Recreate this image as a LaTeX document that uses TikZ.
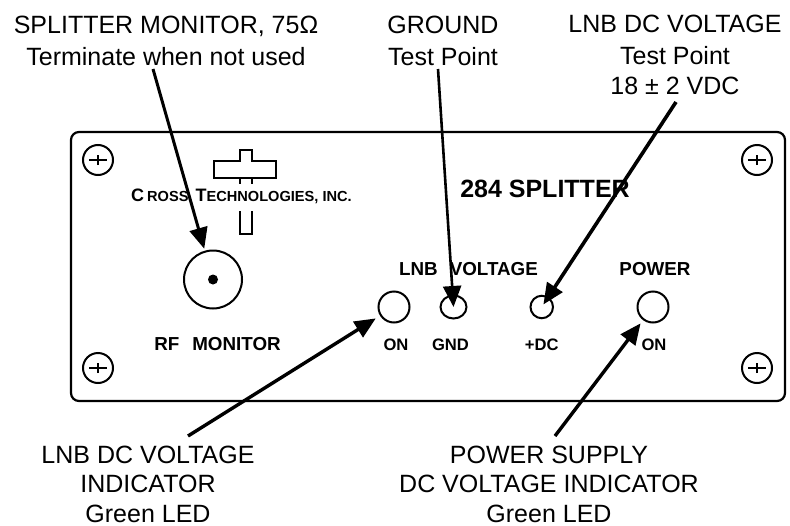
\documentclass[tikz,border=0pt]{standalone}
\usepackage{fontspec}
\setmainfont{Liberation Sans}
\usetikzlibrary{arrows.meta,positioning,shapes.geometric}
\tikzset{
  felirat/.style={align=center,inner sep=0pt,anchor=base,font=\fontsize{25}{29.5}\selectfont},
  cimke/.style={inner sep=0pt,font=\fontsize{18.8}{22}\selectfont\bfseries},
  kiscimke/.style={inner sep=0pt,font=\fontsize{16.6}{20}\selectfont\bfseries},
  led/.style={circle,draw,line width=2pt,inner sep=0pt,minimum size=#1},
  screw/.style={circle,draw,line width=2pt,inner sep=0pt,minimum size=30pt},
  lap/.style={line width=2.2pt,rounded corners=8pt},
  logo/.style={line width=2pt},
  nyil/.style={-{Triangle[length=21pt,width=18pt]},line width=3pt},
}

\begin{document}
\begin{tikzpicture}[x=1pt,y=-1pt]
  \useasboundingbox (0,0) rectangle (790,525);
  \draw[lap] (71,132) rectangle (785,401);
  % screws
  \foreach \nev/\hol in {sa/{98,160},sb/{757,160},sc/{98,368},sd/{757,368}} {
    \node[screw] (\nev) at (\hol) {};
    \draw[line width=1.8pt] ([xshift=-9pt]\nev.center) -- ([xshift=9pt]\nev.center);
    \draw[line width=1.6pt] ([yshift=-5pt]\nev.center) -- ([yshift=5pt]\nev.center);
  }
  % logo
  \draw[logo] (240,161) -- (240,150) -- (252,150) -- (252,161) -- (276,161) -- (276,178) -- (214,178) -- (214,161) -- cycle;
  \draw[logo] (240,178) -- (240,184) (252,178) -- (252,184);
  \draw[logo] (240,211) -- (240,234) -- (252,234) -- (252,211);
  \node[inner sep=0pt,anchor=base west,font=\fontsize{14.6}{16}\selectfont\bfseries] (ceg) at (131,201)
    {{\fontsize{18}{16}\selectfont C}\hspace{3pt}ROSS\hspace{7pt}{\fontsize{18}{16}\selectfont T}ECHNOLOGIES, INC.};
  \node[inner sep=0pt,anchor=base,font=\fontsize{25}{28}\selectfont\bfseries] (cim) at (545,197) {284 SPLITTER};
  % monitor
  \node[led=58pt] (bnc) at (213,279.5) {};
  \node[circle,fill,inner sep=0pt,minimum size=10pt] (pont) at (bnc.center) {};
  \node[cimke,anchor=base] (rf) at (217.5,350) {RF\hspace{13pt}MONITOR};
  % LED row
  \node[led=31pt] (ledon) at (394,307) {};
  \node[ellipse,draw,line width=2pt,inner sep=0pt,minimum width=26pt,minimum height=23pt,right=29pt of ledon] (gnd) {};
  \node[led=22.5pt,right=62pt of gnd] (dc) {};
  \node[led=31pt,right=82.5pt of dc] (ledpwr) {};
  \node[kiscimke,below=15.5pt of ledon,xshift=2pt] (on1) {ON};
  \node[kiscimke,below=19pt of gnd,xshift=-3pt] (gndt) {GND};
  \node[kiscimke,below=19.5pt of dc] (dct) {+DC};
  \node[kiscimke,below=15.5pt of ledpwr,xshift=1pt] (on2) {ON};
  \node[cimke,anchor=base] (lnb) at (468.5,275) {LNB\hspace{12pt}VOLTAGE};
  \node[cimke,anchor=base] (pwr) at (655,275) {POWER};
  % callouts
  \node[felirat] (f1) at (166,65) {SPLITTER MONITOR, 75Ω\\[2.5pt] Terminate when not used};
  \node[felirat] (f2) at (443,65) {GROUND\\[2.5pt] Test Point};
  \node[felirat] (f3) at (675,94) {LNB DC VOLTAGE\\[2.5pt] Test Point\\ 18 ± 2 VDC};
  \node[felirat] (f4) at (148,522) {LNB DC VOLTAGE\\ INDICATOR\\ Green LED};
  \node[felirat] (f5) at (549,522) {POWER SUPPLY\\ DC VOLTAGE INDICATOR\\ Green LED};
  \coordinate (t1) at (153,69);
  \coordinate (t2) at (438,69);
  \coordinate (t3) at (676,102);
  \coordinate (t4) at (188,436);
  \coordinate (t5) at (555,436);
  \draw[nyil,shorten >=2pt] (t1) -- (bnc);
  \draw[nyil,line width=2.6pt] (t2) -- (gnd.center);
  \draw[nyil,line width=3.6pt,shorten >=3pt] (t3) -- (dc.center);
  \draw[nyil,line width=3.4pt,shorten >=5pt] (t4) -- (ledon);
  \draw[nyil,line width=3.4pt,shorten >=4pt] (t5) -- (ledpwr);
\end{tikzpicture}
\end{document}
